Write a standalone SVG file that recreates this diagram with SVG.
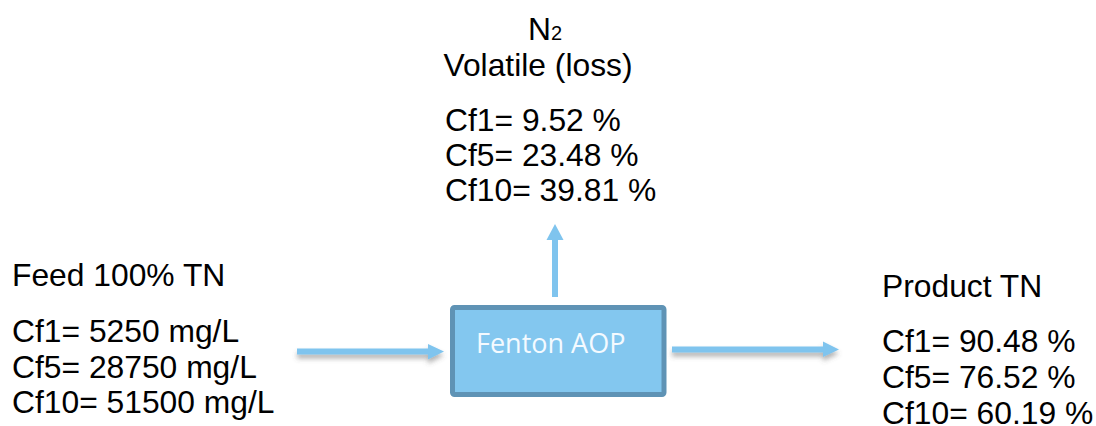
<svg xmlns="http://www.w3.org/2000/svg" width="1096" height="426" viewBox="0 0 1096 426">
<defs>
<filter id="sh" x="-10%" y="-50%" width="120%" height="250%">
<feDropShadow dx="0" dy="4" stdDeviation="2.5" flood-color="#555" flood-opacity="0.45"/>
</filter>
</defs>
<style>
.t{font-family:"Liberation Sans",Arial,sans-serif;font-size:31.8px;fill:#000}
.arr{fill:#7fc4ee}
.box{fill:#83c7ef;stroke:#5f93b5;stroke-width:5}
.bt{font-family:"Open Sans","Liberation Sans",sans-serif;font-size:27px;fill:#f4faff}
</style>
<rect width="1096" height="426" fill="#fff"/>
<g id="connectors">
<path class="arr" filter="url(#sh)" d="M297,348.5 H428 V344 L444,351.5 L428,359.5 V354.5 H297 Z"/>
<path class="arr" filter="url(#sh)" d="M672,346.5 H823 V341.5 L839,349.5 L823,357 V352.5 H672 Z"/>
<path class="arr" d="M552,297 V240 H546.5 L555,224 L563.5,240 H558 V297 Z"/>
</g>
<g id="fenton">
<rect class="box" x="452.5" y="307.5" width="211.5" height="87" rx="2"/>
<text class="bt" x="476" y="353">Fenton AOP</text>
</g>
<g id="volatile">
<text class="t" x="528" y="40">N<tspan font-size="20px">2</tspan></text>
<text class="t" x="538" y="76" text-anchor="middle">Volatile (loss)</text>
<text class="t" x="445" y="131">Cf1= 9.52 %</text>
<text class="t" x="445" y="166">Cf5= 23.48 %</text>
<text class="t" x="445" y="201">Cf10= 39.81 %</text>
</g>
<g id="feed">
<text class="t" x="12" y="286">Feed 100% TN</text>
<text class="t" x="12" y="342">Cf1= 5250 mg/L</text>
<text class="t" x="12" y="378">Cf5= 28750 mg/L</text>
<text class="t" x="12" y="413">Cf10= 51500 mg/L</text>
</g>
<g id="product">
<text class="t" x="882" y="297">Product TN</text>
<text class="t" x="882" y="352">Cf1= 90.48 %</text>
<text class="t" x="882" y="388">Cf5= 76.52 %</text>
<text class="t" x="882" y="424">Cf10= 60.19 %</text>
</g>
</svg>
